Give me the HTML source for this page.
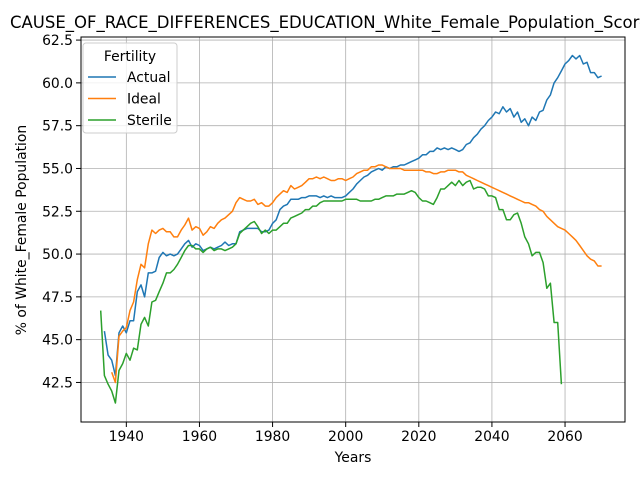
<!DOCTYPE html>
<html><head><meta charset="utf-8"><style>
body{margin:0;background:#fff;width:640px;height:480px;overflow:hidden}
svg{font-family:"DejaVu Sans","Liberation Sans",sans-serif}
</style></head><body>
<svg id="chart" width="640" height="480" xmlns="http://www.w3.org/2000/svg">
<text x="10" y="28" font-size="16.5" fill="#000">CAUSE_OF_RACE_DIFFERENCES_EDUCATION_White_Female_Population_Score</text>
<g id="grid"></g><g id="ticks"></g><g id="series"></g>
<rect x="81" y="37" width="544" height="385" fill="none" stroke="#000" stroke-width="1"/>
<text x="353" y="462" font-size="13.9" text-anchor="middle">Years</text>
<text transform="translate(26,230) rotate(-90)" font-size="13.9" text-anchor="middle">% of White_Female Population</text>
<g id="legend">
<rect x="83" y="43" width="94" height="90" rx="3" fill="#fff" fill-opacity="0.8" stroke="#ccc"/>
<text x="130" y="61" font-size="13.9" text-anchor="middle">Fertility</text>
</g>
</svg>
<script>
const actualYears0 = 1934;
const actualVals = [45.5,44.1,43.8,42.9,45.4,45.8,45.4,46.1,46.1,47.8,48.2,47.5,48.9,48.9,49.0,49.8,50.1,49.9,50.0,49.9,50.0,50.3,50.6,50.8,50.4,50.6,50.5,50.2,50.3,50.4,50.3,50.4,50.5,50.7,50.5,50.6,50.6,51.3,51.4,51.5,51.5,51.5,51.5,51.3,51.3,51.4,51.8,52.0,52.6,52.8,52.9,53.2,53.2,53.2,53.3,53.3,53.4,53.4,53.4,53.3,53.4,53.3,53.4,53.3,53.3,53.3,53.4,53.6,53.8,54.1,54.3,54.5,54.6,54.8,54.9,55.0,54.9,55.1,55.0,55.1,55.1,55.2,55.2,55.3,55.4,55.5,55.6,55.8,55.8,56.0,56.0,56.2,56.1,56.2,56.1,56.2,56.1,56.0,56.1,56.4,56.5,56.8,57.0,57.3,57.5,57.8,58.0,58.3,58.2,58.6,58.3,58.5,58.0,58.3,57.7,57.9,57.5,58.0,57.8,58.3,58.4,59.0,59.3,60.0,60.3,60.7,61.1,61.3,61.6,61.4,61.6,61.1,61.2,60.6,60.6,60.3,60.4];
const idealYears0 = 1936;
const idealVals = [43.1,42.5,45.2,45.5,45.7,46.7,47.2,48.5,49.4,49.2,50.6,51.4,51.2,51.4,51.5,51.3,51.3,51.0,51.0,51.4,51.7,52.1,51.4,51.6,51.5,51.1,51.3,51.6,51.5,51.8,52.0,52.1,52.3,52.5,53.0,53.3,53.2,53.1,53.1,53.2,52.9,53.0,52.8,52.8,53.0,53.3,53.5,53.7,53.6,54.0,53.8,53.9,54.0,54.2,54.4,54.4,54.5,54.4,54.5,54.4,54.3,54.3,54.4,54.4,54.3,54.4,54.5,54.7,54.8,54.9,54.9,55.1,55.1,55.2,55.2,55.1,55.0,55.0,55.0,55.0,54.9,54.9,54.9,54.9,54.9,54.9,54.8,54.8,54.7,54.7,54.8,54.8,54.9,54.9,54.9,54.8,54.8,54.6,54.5,54.4,54.3,54.2,54.1,54.0,53.9,53.8,53.7,53.6,53.5,53.4,53.3,53.2,53.1,53.0,53.0,52.9,52.8,52.6,52.5,52.2,52.0,51.8,51.6,51.5,51.4,51.2,51.0,50.8,50.5,50.2,49.9,49.7,49.6,49.3,49.3];
const sterileYears0 = 1933;
const sterileVals = [46.7,42.9,42.4,42.0,41.3,43.2,43.6,44.2,43.8,44.5,44.4,45.9,46.3,45.8,47.2,47.3,47.8,48.3,48.9,48.9,49.1,49.4,49.8,50.2,50.5,50.5,50.3,50.3,50.1,50.3,50.4,50.2,50.3,50.3,50.2,50.3,50.4,50.6,51.2,51.4,51.6,51.8,51.9,51.6,51.2,51.4,51.2,51.4,51.4,51.6,51.8,51.8,52.1,52.2,52.3,52.4,52.6,52.6,52.8,52.8,53.0,53.1,53.1,53.1,53.1,53.1,53.1,53.2,53.2,53.2,53.2,53.1,53.1,53.1,53.1,53.2,53.2,53.3,53.4,53.4,53.4,53.5,53.5,53.5,53.6,53.7,53.6,53.3,53.1,53.1,53.0,52.9,53.3,53.8,53.8,54.0,54.2,54.0,54.3,54.0,54.2,54.3,53.8,53.9,53.9,53.8,53.4,53.4,53.3,52.6,52.6,52.0,52.0,52.3,52.4,51.8,51.0,50.6,49.9,50.1,50.1,49.5,48.0,48.3,46.0,46.0,42.4];
const xTicks = [1940,1960,1980,2000,2020,2040,2060];
const yTicks = [42.5,45.0,47.5,50.0,52.5,55.0,57.5,60.0,62.5];
const seriesNames = ["Actual","Ideal","Sterile"];
const colors = ["#1f77b4","#ff7f0e","#2ca02c"];

const NS="http://www.w3.org/2000/svg";
const X0=81,X1=625,Y0=37,Y1=422;
const xMin=1927.6,xMax=2076.4,yMin=40.19,yMax=62.68;
const xs=v=>X0+(v-xMin)/(xMax-xMin)*(X1-X0);
const ys=v=>Y1-(v-yMin)/(yMax-yMin)*(Y1-Y0);
function mk(tag,attrs,parent){const e=document.createElementNS(NS,tag);for(const k in attrs)e.setAttribute(k,attrs[k]);parent.appendChild(e);return e;}
const grid=document.getElementById('grid'),ticks=document.getElementById('ticks'),ser=document.getElementById('series');
xTicks.forEach(t=>{const x=xs(t);
 const g=mk('line',{x1:x,x2:x,y1:Y0,y2:Y1,stroke:'#b0b0b0','stroke-width':0.8},grid);
 
 
 mk('line',{x1:x,x2:x,y1:Y1,y2:Y1+5,stroke:'#000'},ticks);
 const tx=mk('text',{x:x,y:Y1+19,'font-size':13.9,'text-anchor':'middle'},ticks);tx.textContent=t;
 
 
});
yTicks.forEach(t=>{const y=ys(t);
 const g=mk('line',{x1:X0,x2:X1,y1:y,y2:y,stroke:'#b0b0b0','stroke-width':0.8},grid);
 
 
 mk('line',{x1:X0-5,x2:X0,y1:y,y2:y,stroke:'#000'},ticks);
 const tx=mk('text',{x:X0-8,y:y+5,'font-size':13.9,'text-anchor':'end'},ticks);tx.textContent=t.toFixed(1);
 
 
});
const all=[[actualYears0,actualVals],[idealYears0,idealVals],[sterileYears0,sterileVals]];
all.forEach((s,i)=>{
 const pts=s[1].map((v,j)=>xs(s[0]+j).toFixed(1)+','+ys(v).toFixed(1)).join(' ');
 const p=mk('polyline',{points:pts,fill:'none',stroke:colors[i],'stroke-width':1.5,'stroke-linejoin':'round'},ser);
 
 
});
const leg=document.getElementById('legend');
seriesNames.forEach((n,i)=>{const y=77+i*21.5;
 const l=mk('line',{x1:88,x2:116,y1:y,y2:y,stroke:colors[i],'stroke-width':1.5},leg);
 
 
 const t=mk('text',{x:127,y:y+5,'font-size':13.9},leg);t.textContent=n;
 
 
});
</script>
</body></html>
